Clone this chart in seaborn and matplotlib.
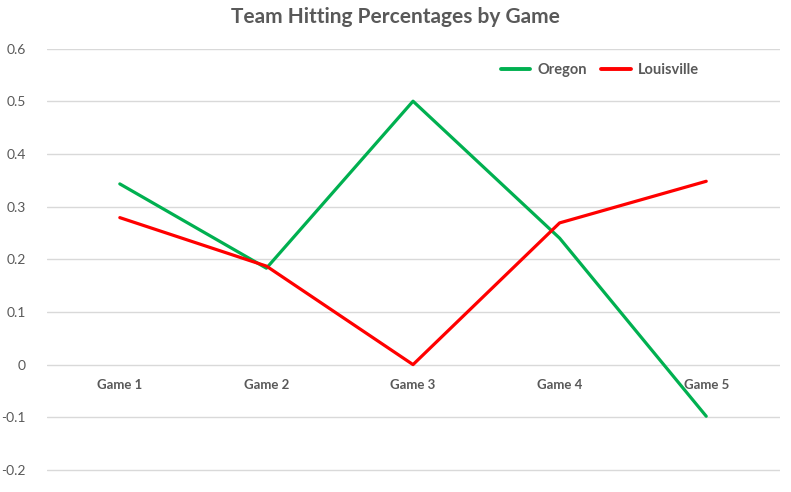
import matplotlib
matplotlib.use("Agg")
import matplotlib.pyplot as plt
import seaborn as sns
import pandas as pd

games = ["Game 1", "Game 2", "Game 3", "Game 4", "Game 5"]
oregon = [0.343, 0.183, 0.500, 0.240, -0.098]
louisville = [0.279, 0.187, 0.000, 0.269, 0.348]
yticks = [-0.2, -0.1, 0, 0.1, 0.2, 0.3, 0.4, 0.5, 0.6]
ytick_labels = ["-0.2", "-0.1", "0", "0.1", "0.2", "0.3", "0.4", "0.5", "0.6"]

sns.set_theme(style="white")
plt.rcParams['font.family'] = ['Lato', 'DejaVu Sans']

df = pd.DataFrame({
    "Game": games * 2,
    "Team": ["Oregon"] * len(games) + ["Louisville"] * len(games),
    "Value": oregon + louisville,
})

fig = plt.figure(figsize=(7.91, 4.92), dpi=100)
ax = fig.add_axes([0.0588, 0.0394, 0.9267, 0.862])

palette = {"Oregon": "#00B050", "Louisville": "#FF0000"}
sns.lineplot(data=df, x="Game", y="Value", hue="Team", palette=palette,
             sort=False, linewidth=2.3, ax=ax)

ax.set_xlim(-0.5, len(games) - 0.5)
ax.set_ylim(-0.205, 0.6)
ax.set_yticks(yticks)
ax.set_yticklabels(ytick_labels)
ax.yaxis.grid(True, color="#D9D9D9", linewidth=1)
ax.xaxis.grid(False)
ax.set_axisbelow(True)
for s in ["top", "right", "left"]:
    ax.spines[s].set_visible(False)
ax.spines["bottom"].set_position(("data", 0))
ax.spines["bottom"].set_visible(False)
ax.set_xticks(range(len(games)))
ax.set_xticklabels(games, fontweight="bold")
ax.tick_params(axis="x", length=0, pad=10, labelsize=9.5, labelcolor="#595959")
ax.tick_params(axis="y", length=0, pad=15, labelsize=10, labelcolor="#595959")
ax.set_xlabel("")
ax.set_ylabel("")

fig.suptitle("Team Hitting Percentages by Game", x=0.5, y=0.985, fontsize=15,
             fontweight="bold", color="#595959")

leg = ax.legend(loc="center", bbox_to_anchor=(0.755, 0.95), ncol=2, frameon=False,
                handlelength=2.0, handletextpad=0.5, columnspacing=1.0,
                prop={"weight": "bold", "size": 10.5})
for t in leg.get_texts():
    t.set_color("#595959")
for l in leg.get_lines():
    l.set_linewidth(2.8)

fig.savefig("out.png", dpi=100, facecolor="white")
